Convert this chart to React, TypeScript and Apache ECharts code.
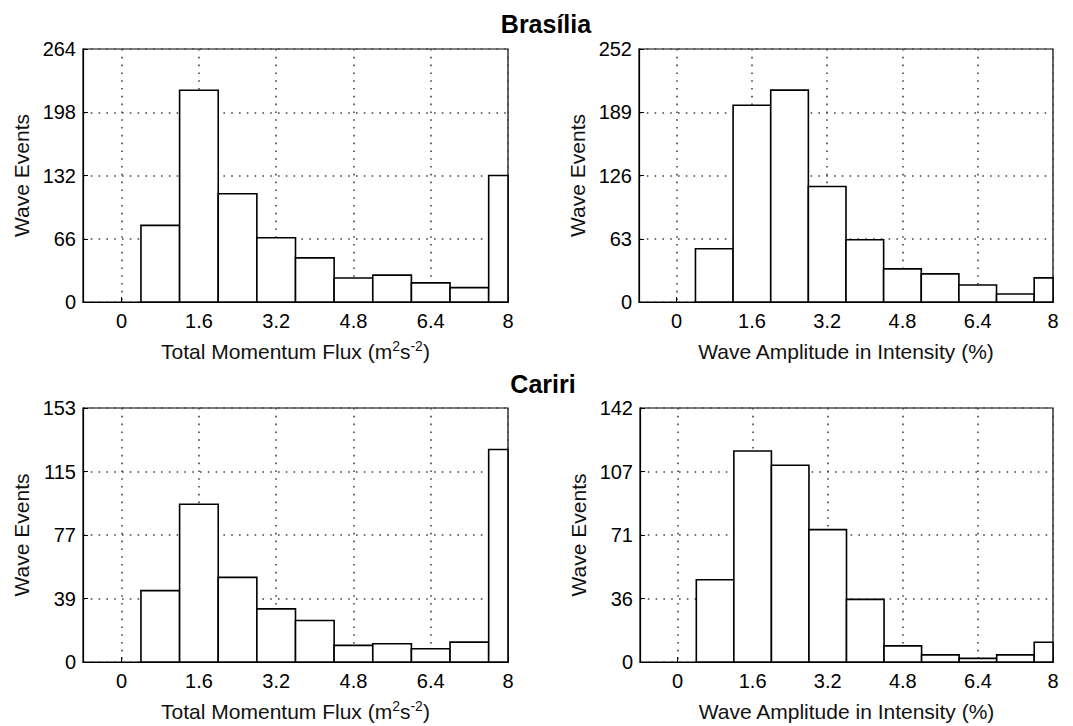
import React, { useEffect, useRef } from "react";
import * as echarts from "echarts";

const binCenters = [0.8, 1.6, 2.4, 3.2, 4.0, 4.8, 5.6, 6.4, 7.2, 8.0];
const binWidth = 0.8;
const xTicks = [0, 1.6, 3.2, 4.8, 6.4, 8];

const brasiliaFlux = [80, 221, 113, 67, 46, 25, 28, 20, 15, 132];
const brasiliaAmp = [53, 196, 211, 115, 62, 33, 28, 17, 8, 24];
const caririFlux = [43, 95, 51, 32, 25, 10, 11, 8, 12, 128];
const caririAmp = [46, 118, 110, 74, 35, 9, 4, 2, 4, 11];

const yMax = [264, 252, 153, 142];
const panelTitles = ["Brasília", "Cariri"];
const xNames = [
  "Total Momentum Flux (m{sup|2}s{sup|-2})",
  "Wave Amplitude in Intensity (%)",
  "Total Momentum Flux (m{sup|2}s{sup|-2})",
  "Wave Amplitude in Intensity (%)",
];
const yName = "Wave Events";

const FONT = "'Liberation Sans', Arial, sans-serif";

export default function App() {
  const ref = useRef<HTMLDivElement>(null);

  useEffect(() => {
    if (!ref.current) return;
    const chart = echarts.init(ref.current, null, { renderer: "svg" });
    const allData = [brasiliaFlux, brasiliaAmp, caririFlux, caririAmp];
    const grids = [
      { left: 83, top: 49, width: 425, height: 253 },
      { left: 639, top: 49, width: 414, height: 253 },
      { left: 83, top: 408, width: 425, height: 254 },
      { left: 640, top: 408, width: 413, height: 254 },
    ].map((g) => ({
      ...g,
      show: true,
      borderColor: "#000",
      borderWidth: 1.2,
      backgroundColor: "#fff",
    }));

    const dotted = { color: "#444", width: 1.6, type: [1.6, 6.2] as number[] };

    const xAxes = allData.map((_, i) => ({
      type: "value",
      gridIndex: i,
      min: -0.8,
      max: 8,
      name: xNames[i],
      nameLocation: "middle",
      nameGap: 37,
      nameTextStyle: {
        fontFamily: FONT,
        fontSize: 21,
        color: "#111",
        lineHeight: 24,
        rich: {
          sup: { fontSize: 14, verticalAlign: "top", lineHeight: 14, fontFamily: FONT, color: "#111" },
        },
      },
      axisLine: { show: true, onZero: false, lineStyle: { color: "#000", width: 1.2 } },
      axisTick: { show: true, inside: true, length: 5, customValues: xTicks, lineStyle: { color: "#000" } },
      axisLabel: {
        customValues: xTicks,
        fontFamily: FONT,
        fontSize: 20,
        color: "#000",
        margin: 9,
        formatter: (v: number) => String(Math.round(v * 10) / 10),
      },
      splitLine: { show: true, lineStyle: dotted },
    }));

    const yAxes = allData.map((_, i) => ({
      type: "value",
      gridIndex: i,
      min: 0,
      max: yMax[i],
      interval: yMax[i] / 4,
      name: yName,
      nameLocation: "middle",
      nameGap: 51,
      nameTextStyle: { fontFamily: FONT, fontSize: 21, color: "#111" },
      axisLine: { show: true, onZero: false, lineStyle: { color: "#000", width: 1.2 } },
      axisTick: { show: true, inside: true, length: 5, lineStyle: { color: "#000" } },
      axisLabel: {
        fontFamily: FONT,
        fontSize: 20,
        color: "#000",
        margin: 7,
        formatter: (v: number) => String(Math.ceil(v - 1e-9)),
      },
      splitLine: { show: true, lineStyle: dotted },
    }));

    const series = allData.map((d, i) => ({
      type: "custom",
      xAxisIndex: i,
      yAxisIndex: i,
      data: d.map((v, k) => [binCenters[k], v]),
      renderItem: (params: any, api: any) => {
        const c = api.value(0);
        const v = api.value(1);
        const p0 = api.coord([c - binWidth / 2, v]);
        const p1 = api.coord([c + binWidth / 2, 0]);
        const cs = params.coordSys;
        const x0 = Math.max(p0[0], cs.x);
        const x1 = Math.min(p1[0], cs.x + cs.width);
        return {
          type: "rect",
          shape: { x: x0, y: p0[1], width: x1 - x0, height: p1[1] - p0[1] },
          style: { fill: "#fff", stroke: "#000", lineWidth: 1.6 },
        };
      },
    }));

    chart.setOption({
      animation: false,
      backgroundColor: "#fff",
      title: [
        {
          text: panelTitles[0],
          left: 541,
          top: 6,
          textAlign: "center",
          textStyle: { fontFamily: FONT, fontSize: 25, fontWeight: "bold", color: "#000" },
        },
        {
          text: panelTitles[1],
          left: 538,
          top: 366,
          textAlign: "center",
          textStyle: { fontFamily: FONT, fontSize: 25, fontWeight: "bold", color: "#000" },
        },
      ],
      grid: grids,
      xAxis: xAxes,
      yAxis: yAxes,
      series,
    });
    return () => chart.dispose();
  }, []);

  return (
    <div
      ref={ref}
      style={{ position: "absolute", left: 0, top: 0, width: 1073, height: 726 }}
    />
  );
}
